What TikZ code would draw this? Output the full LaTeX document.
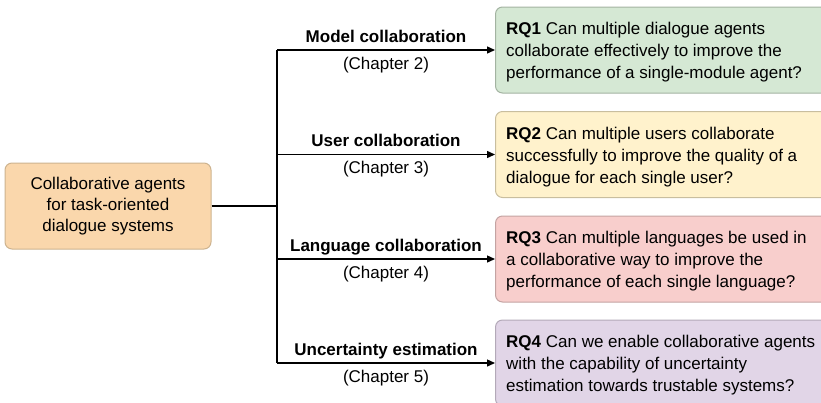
\documentclass[tikz,border=0pt]{standalone}
\usepackage{fontspec}
\setmainfont{Liberation Sans}
\usetikzlibrary{arrows.meta,calc}
\definecolor{orfill}{HTML}{FAD7AC}
\definecolor{ordraw}{HTML}{CDB38F}
\definecolor{gnfill}{HTML}{D5E8D4}
\definecolor{gndraw}{HTML}{A3B3A1}
\definecolor{ylfill}{HTML}{FFF2CC}
\definecolor{yldraw}{HTML}{C9BE9E}
\definecolor{rdfill}{HTML}{F8CECC}
\definecolor{rddraw}{HTML}{C4A3A2}
\definecolor{pufill}{HTML}{E1D5E7}
\definecolor{pudraw}{HTML}{B3A9B8}
\tikzset{
  srcbox/.style={draw=ordraw, fill=orfill, line width=1pt, rounded corners=7pt,
    minimum width=206pt, minimum height=86pt, align=center, inner sep=0pt,
    font=\fontsize{17}{21}\selectfont},
  rqbox/.style={line width=1pt, rounded corners=7pt, anchor=west,
    minimum height=86pt, minimum width=340pt, inner sep=0pt},
  rqtext/.style={anchor=west, xshift=11pt, yshift=-2.5pt, inner sep=0pt,
    align=left, font=\fontsize{17}{22}\selectfont},
  conn/.style={line width=1.4pt, black},
  arr/.style={conn, -{Triangle[length=8pt,width=7pt]}},
  toplab/.style={font=\bfseries\fontsize{17}{20}\selectfont, text height=12pt, text depth=4pt, inner sep=0pt, yshift=12pt},
  botlab/.style={font=\fontsize{17}{20}\selectfont, text height=12pt, text depth=4pt, inner sep=0pt, yshift=-15pt},
}
\begin{document}
\begin{tikzpicture}[x=1pt,y=-1pt]
\useasboundingbox (0,0) rectangle (821,402);
\clip (0,0) rectangle (821,402);
\node[srcbox] (src) at (108,206) {Collaborative agents\\for task-oriented\\dialogue systems};
\node[rqbox, draw=gndraw, fill=gnfill] (rq1) at (495,50) {};
\node[rqbox, draw=yldraw, fill=ylfill] (rq2) at (495,154.5) {};
\node[rqbox, draw=rddraw, fill=rdfill] (rq3) at (495,259) {};
\node[rqbox, draw=pudraw, fill=pufill] (rq4) at (495,363) {};
\node[rqtext] (t1) at (rq1.west) {\textbf{RQ1} Can multiple dialogue agents\\collaborate effectively to improve the\\performance of a single-module agent?};
\node[rqtext] (t2) at (rq2.west) {\textbf{RQ2} Can multiple users collaborate\\successfully to improve the quality of a\\dialogue for each single user?};
\node[rqtext] (t3) at (rq3.west) {\textbf{RQ3} Can multiple languages be used in\\a collaborative way to improve the\\performance of each single language?};
\node[rqtext] (t4) at (rq4.west) {\textbf{RQ4} Can we enable collaborative agents\\with the capability of uncertainty\\estimation towards trustable systems?};
\coordinate (j1) at (277,50);
\coordinate (j2) at (277,154.5);
\coordinate (j3) at (277,259);
\coordinate (j4) at (277,363);
\coordinate (jc) at (277,206);
\draw[conn] (src.east) -- (src.east -| jc);
\draw[conn] (j1) -- (j4);
\draw[arr] (j1) -- node[toplab]{Model collaboration} node[botlab]{(Chapter 2)} (rq1.west);
\draw[arr] (j2) -- node[toplab]{User collaboration} node[botlab]{(Chapter 3)} (rq2.west);
\draw[arr] (j3) -- node[toplab]{Language collaboration} node[botlab]{(Chapter 4)} (rq3.west);
\draw[arr] (j4) -- node[toplab]{Uncertainty estimation} node[botlab]{(Chapter 5)} (rq4.west);
\end{tikzpicture}
\end{document}
